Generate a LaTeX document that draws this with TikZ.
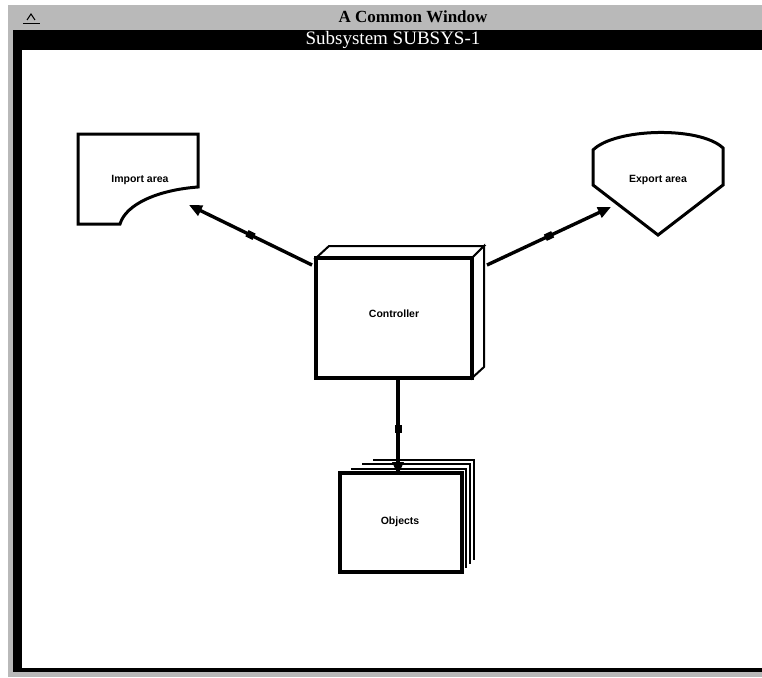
\documentclass[tikz,border=0pt]{standalone}
\usepackage{fontspec}
\setmainfont{Liberation Serif}
\newfontfamily\lblfont{Liberation Sans}
\usetikzlibrary{arrows.meta}
\tikzset{
  shapeline/.style={draw=black, line width=3pt, fill=white, line join=miter},
  lbl/.style={font=\lblfont\bfseries\fontsize{10.5}{12}\selectfont, inner sep=1pt},
  conn/.style={line width=3.4pt, -{Triangle[length=13pt,width=11pt]}},
  midsq/.style={sloped, fill=black, minimum width=8pt, minimum height=7pt, inner sep=0pt, draw=none},
  stackline/.style={draw=black, line width=2pt}
}
\begin{document}
\begin{tikzpicture}[x=1pt,y=-1pt]
\useasboundingbox (0,0) rectangle (762,677);
\fill[white] (0,0) rectangle (762,677);
% window frame
\fill[gray!55] (8,5) rectangle (762,677);
\fill[black] (13,30) rectangle (762,672);
\fill[white] (22,50) rectangle (762,668);
\node[font=\bfseries\fontsize{17}{18}\selectfont, text=black] (wtitle) at (413,17) {A Common Window};
\node[font=\fontsize{19}{20}\selectfont, text=white] (stitle) at (393,40) {Subsystem SUBSYS-1};
% close box glyph
\draw[line width=1pt] (23,24) -- (40,24);
\draw[line width=1pt] (27,20) -- (31,14) -- (35,20);

% Import area
\draw[shapeline] (78,134) -- (198,134) -- (198,187)
  .. controls (158,190) and (126,204) .. (120,224) -- (78,224) -- cycle;
\node[lbl] (imp) at (140,180) {Import area};

% Export area
\draw[shapeline] (593,150) .. controls (615,128) and (700,126) .. (723,148)
  -- (723,185) -- (658,235) -- (593,185) -- cycle;
\node[lbl] (exp) at (658,180) {Export area};

% Controller box (3D)
\draw[shapeline, line width=2pt] (316,258) -- (329,246) -- (484,246) -- (472,258) -- cycle;
\draw[shapeline, line width=2pt] (472,258) -- (484,246) -- (484,367) -- (472,378) -- cycle;
\draw[shapeline, line width=3.8pt] (316,258) rectangle (472,378);
\node[lbl] (ctrl) at (394,314) {Controller};

% Objects stack
\foreach \k in {3,2,1}{
  \draw[stackline] (340+11*\k,473-4.5*\k) -- (462+4*\k,473-4.5*\k) -- (462+4*\k,572-4*\k);
}
\draw[shapeline, line width=3.4pt] (340,473) rectangle (462,572);
\node[lbl] (obj) at (400,522) {Objects};

% connector end points
\coordinate (c-imp) at (312,265);
\coordinate (imp-end) at (189,205);
\coordinate (c-exp) at (487,265);
\coordinate (exp-end) at (611,207);
\coordinate (c-obj) at (398,380);
\coordinate (obj-end) at (398,475);

\draw[conn] (c-imp) -- node[midsq] {} (imp-end);
\draw[conn] (c-exp) -- node[midsq] {} (exp-end);
\draw[conn] (c-obj) -- node[midsq, pos=0.52] {} (obj-end);
\end{tikzpicture}
\end{document}
